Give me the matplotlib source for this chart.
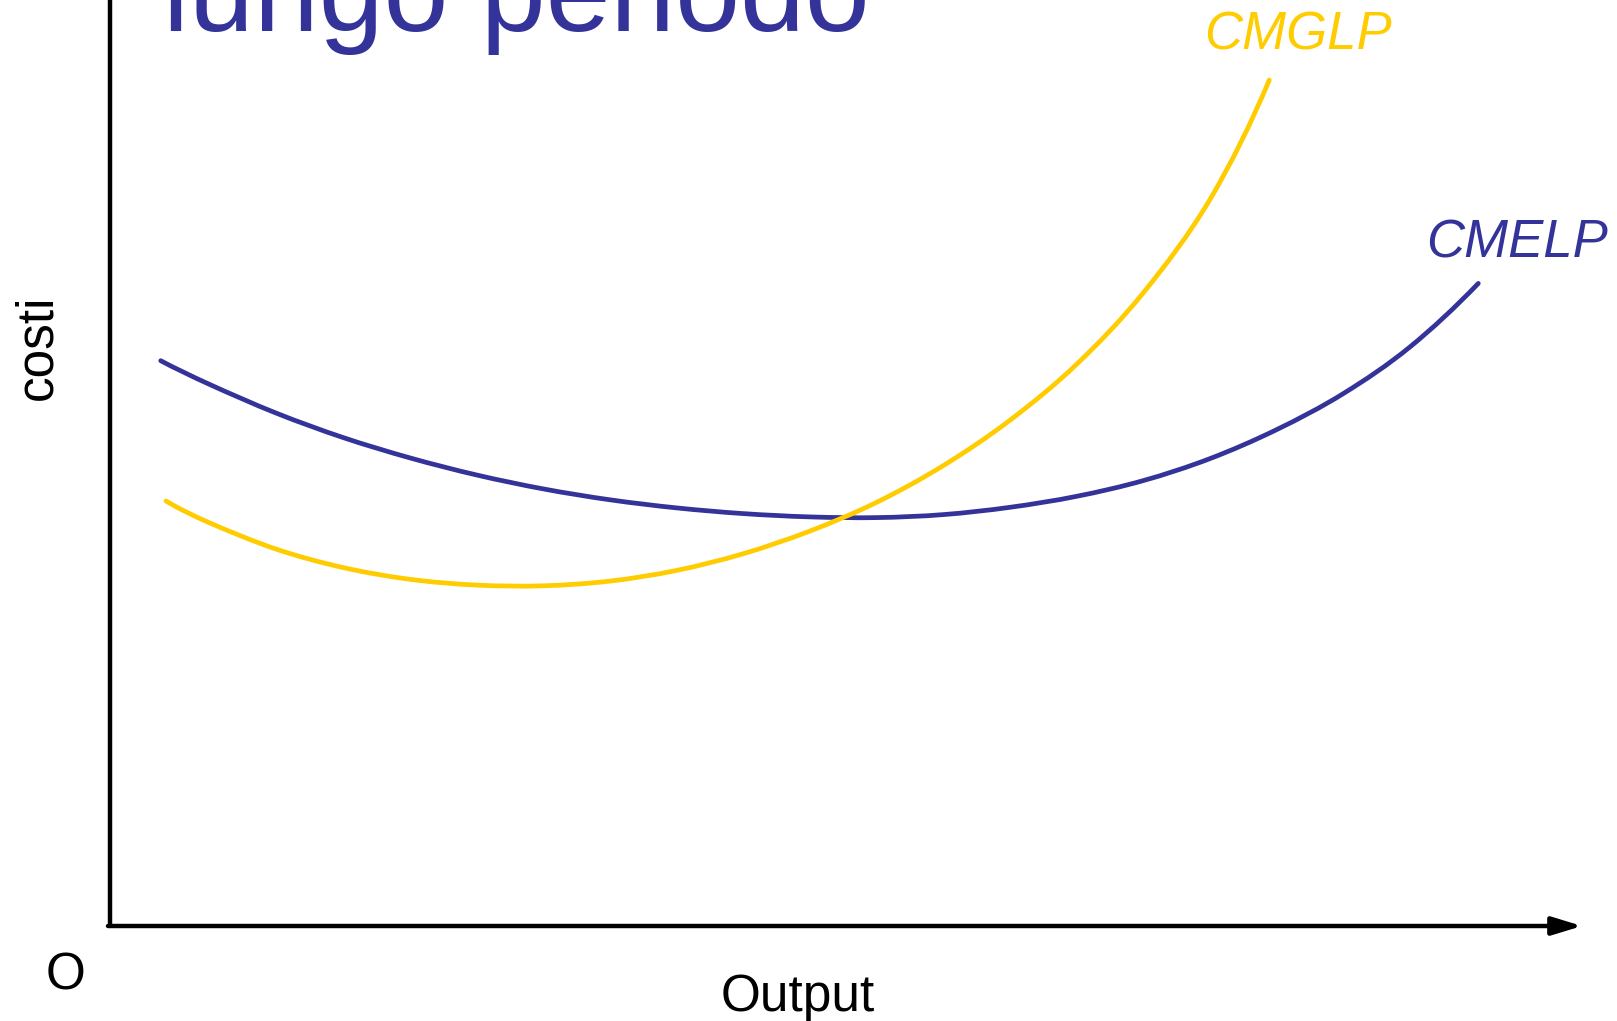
import numpy as np
import matplotlib.pyplot as plt
from matplotlib.patches import FancyArrowPatch, PathPatch
from matplotlib.path import Path

# output (q) and cost (c)
q_cmelp = [5.07, 10, 16.67, 23.33, 30, 36.67, 43.33, 50, 56.67, 63.33, 70,
           76.67, 83.33, 90, 96.67, 103.33, 110, 116.67, 123.33, 130, 136.83]
c_cmelp = [56.53, 54.14, 51.27, 48.84, 46.81, 45.10, 43.71, 42.62, 41.81, 41.24, 40.91,
           40.84, 41.14, 41.87, 42.97, 44.54, 46.74, 49.64, 53.24, 57.91, 64.26]

q_cmglp = [5.6, 10, 16.67, 23.33, 30, 36.67, 43.33, 50, 56.67, 63.33, 70,
           76.67, 83.33, 90, 96.67, 103.33, 110, 115.93]
c_cmglp = [42.5, 40.3, 37.67, 35.84, 34.67, 34.09, 34.02, 34.49, 35.56, 37.23, 39.50,
           42.37, 46.04, 50.58, 56.18, 63.32, 72.66, 84.6]

blue = "#333399"
gold = "#FFCC00"


def smooth_path(xs, ys):
    # catmull-rom through the read points, drawn as cubic bezier segments;
    # the end tangents keep the curvature of the last three points
    p = np.column_stack([xs, ys])
    start = 3 * p[0] - 3 * p[1] + p[2]
    end = 3 * p[-1] - 3 * p[-2] + p[-3]
    ext = np.vstack([start, p, end])
    verts = [p[0]]
    codes = [Path.MOVETO]
    for i in range(1, len(ext) - 2):
        p0, p1, p2, p3 = ext[i - 1], ext[i], ext[i + 1], ext[i + 2]
        verts += [p1 + (p2 - p0) / 6, p2 - (p3 - p1) / 6, p2]
        codes += [Path.CURVE4] * 3
    return Path(verts, codes)


plt.rcParams["font.family"] = ["Liberation Sans", "DejaVu Sans"]

fig = plt.figure(figsize=(16.17, 10.21), dpi=100)
ax = fig.add_axes([0, 0, 1, 1])
ax.set_xlim(-11, 150.7)
ax.set_ylim(-9.5, 92.6)
ax.axis("off")

# axes
ax.plot([0, 0], [-0.1, 95], color="black", lw=3.2, solid_capstyle="butt")
arr = FancyArrowPatch((-0.2, 0), (147.2, 0), arrowstyle="-|>,head_length=18,head_width=5.5",
                      mutation_scale=1, lw=3.2, color="black", shrinkA=0, shrinkB=0)
ax.add_patch(arr)

ax.add_patch(PathPatch(smooth_path(q_cmelp, c_cmelp), facecolor="none", edgecolor=blue,
                       lw=3.4, capstyle="round"))
ax.add_patch(PathPatch(smooth_path(q_cmglp, c_cmglp), facecolor="none", edgecolor=gold,
                       lw=3.4, capstyle="round"))

ax.text(5.3, 89.5, "lungo periodo", color=blue, fontsize=84, va="baseline", ha="left")
ax.text(109.4, 87.6, "CMGLP", color=gold, fontsize=38, style="italic", va="baseline", ha="left")
ax.text(131.6, 66.8, "CMELP", color=blue, fontsize=38, style="italic", va="baseline", ha="left")
ax.text(-7.2, 57.9, "costi", color="black", fontsize=37, rotation=90, va="center", ha="center")
ax.text(-4.4, -4.95, "O", color="black", fontsize=37, va="center", ha="center")
ax.text(68.8, -8.47, "Output", color="black", fontsize=37, va="baseline", ha="center")

fig.savefig("out.png", dpi=100)
